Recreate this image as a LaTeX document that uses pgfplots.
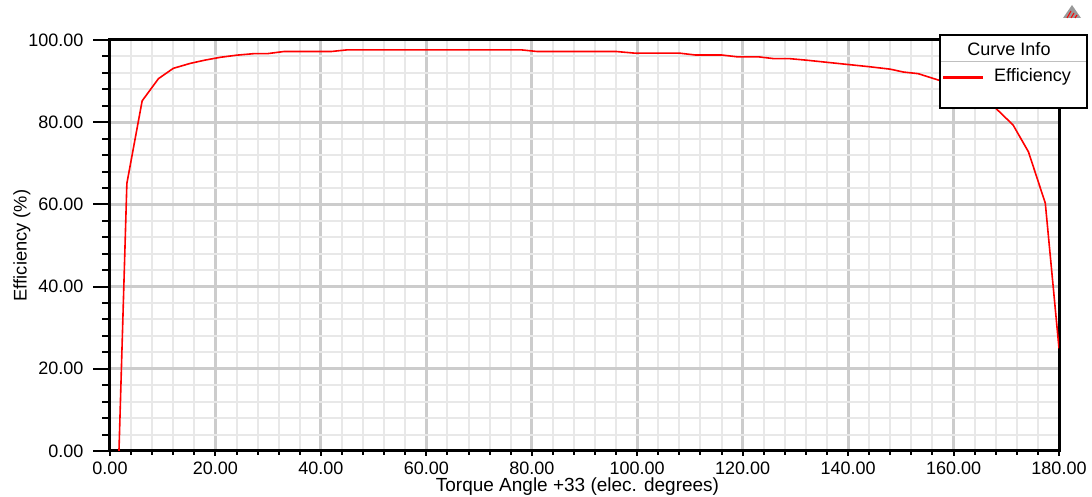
\documentclass[border=0pt]{standalone}
\usepackage{pgfplots}
\pgfplotsset{compat=1.18}
\usepackage{fontspec}
\setmainfont{Liberation Sans}
\begin{document}
\begin{tikzpicture}[x=1pt,y=1pt]
\path[use as bounding box] (-110,-46) rectangle (982,451);
\begin{axis}[
  at={(0,0)}, anchor=south west,
  scale only axis, width=949pt, height=411pt,
  xmin=0, xmax=180, ymin=0, ymax=100,
  xtick={0,20,...,180}, ytick={0,20,...,100},
  minor x tick num=4, minor y tick num=4,
  grid=both,
  major grid style={line width=3pt, color=black!20},
  minor grid style={line width=2pt, color=black!9},
  axis line style={line width=3pt, black},
  tick align=outside, tick pos=left,
  major tick length=17pt, minor tick length=8pt,
  x tick style={/pgfplots/major tick length=5pt, /pgfplots/minor tick length=4pt},
  tick style={line width=2pt, black},
  /pgf/number format/.cd, fixed, fixed zerofill, precision=2, assume math mode=true,
  /pgfplots/.cd,
  ticklabel style={font=\fontsize{18}{21}\selectfont, black},
  xticklabel style={yshift=10pt},
  yticklabel style={xshift=-6pt},
  xlabel={Torque Angle +33 (elec. degrees)},
  ylabel={Efficiency (\%)},
  xlabel style={font=\fontsize{19}{22}\selectfont, at={(axis description cs:0.4926,0)}, anchor=north, yshift=-23pt},
  ylabel style={font=\fontsize{18.3}{21}\selectfont, at={(axis description cs:0,0.5)}, anchor=south, xshift=0pt, yshift=76pt},
  clip=true,
]
\addplot[red, line width=1.6pt] coordinates {
(0,-74) (3.2,65.1) (6.1,85.2) (9.2,90.6) (12,93.1) (15.2,94.3) (18,95.1) (21,95.8) (24,96.3) (27.5,96.7) (30,96.7) (33,97.2) (42,97.2) (45,97.6) (78,97.6) (81,97.2) (96,97.2) (99.5,96.8) (108,96.8) (111,96.35) (116,96.35) (119,95.9) (123,95.9) (126,95.45) (129,95.45) (132,95.1) (135,94.7) (138,94.3) (141,93.9) (144,93.5) (148,92.9) (150.5,92.2) (153.3,91.8) (157,90.3) (162,88.5) (165,86.3) (168,83.4) (171.3,79.3) (174.2,72.8) (177.4,60.3) (180,25)
};
\end{axis}
% legend box
\filldraw[fill=white, draw=black, line width=2pt] (830,343) rectangle (977,416);
\draw[black!25, line width=1pt] (831,389) -- (976,389);
\node[font=\fontsize{18}{21}\selectfont, inner sep=0pt] at (899,402) {Curve Info};
\draw[red, line width=3pt] (833,373.7) -- (872.7,373.7);
\node[font=\fontsize{18}{21}\selectfont, inner sep=0pt, anchor=west] at (884,373.7) {Efficiency};
% logo
\fill[black!40] (953,433) -- (962,446) -- (971,433) -- cycle;
\draw[red, line width=1pt] (957,433) -- (961,440) (961,433) -- (964,438) (965,433) -- (967,436);
\end{tikzpicture}
\end{document}
